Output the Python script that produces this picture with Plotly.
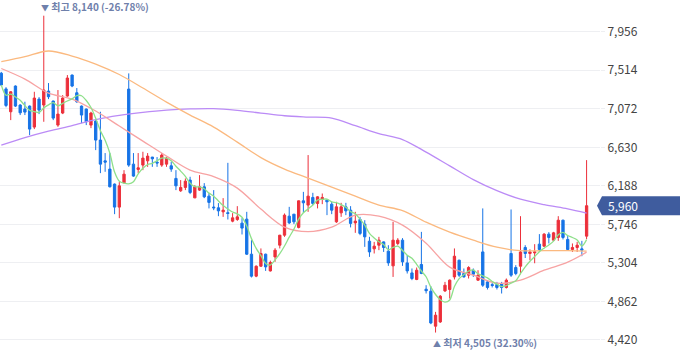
import plotly.graph_objects as go
import pandas as pd

# ---------------- data ----------------
opens = [7480, 7300, 7038, 7333, 7115, 7069, 7103, 6862, 7183, 7115,
         7275, 7161, 6885, 7023, 7218, 7459, 7256, 7103, 7069, 6885,
         6931, 6713, 6475, 6380, 6208, 5944, 6223, 7298, 6437, 6376,
         6426, 6475, 6518, 6460, 6426, 6437, 6418, 6273, 6131, 6170,
         6254, 6050, 6139, 6177, 6070, 5945, 5936, 5890, 5880, 5783,
         5802, 5760, 5806, 5404, 5152, 5266, 5404, 5212, 5373, 5507,
         5622, 5840, 5863, 5711, 6016, 5967, 6055, 5986, 6032, 6024,
         5978, 5775, 5878, 5947, 5909, 5763, 5802, 5749, 5553, 5465,
         5507, 5545, 5439, 5270, 5527, 5565, 5304, 5189, 5114, 5286,
         5002, 4979, 4578, 4627, 4983, 4999, 5143, 5335, 5182, 5163,
         5220, 5106, 5430, 5086, 5055, 5056, 5068, 5022, 5412, 5251,
         5266, 5481, 5412, 5419, 5519, 5496, 5634, 5565, 5596, 5794,
         5573, 5458, 5481, 5465, 5611]
highs = [7495, 7320, 7275, 7340, 7125, 7153, 7110, 7267, 7206, 8140,
         7367, 7165, 7287, 7229, 7459, 7465, 7310, 7110, 7075, 7038,
         6942, 7038, 6564, 6564, 6215, 6231, 6368, 7478, 6564, 6564,
         6579, 6564, 6520, 6518, 6564, 6518, 6464, 6368, 6254, 6273,
         6292, 6196, 6311, 6219, 6105, 6139, 5990, 6047, 6452, 5875,
         5955, 5817, 5890, 5565, 5275, 5470, 5410, 5330, 5473, 5625,
         5871, 5947, 5865, 6020, 6119, 6541, 6108, 6070, 6100, 6030,
         6005, 6005, 5993, 5993, 5955, 5890, 5832, 5794, 5603, 5545,
         5603, 5550, 5507, 5775, 5588, 5588, 5393, 5240, 5251, 5660,
         5048, 5037, 4742, 4935, 5086, 5114, 5470, 5340, 5240, 5266,
         5240, 5220, 5929, 5106, 5075, 5086, 5086, 5125, 5917, 5278,
         5840, 5507, 5460, 5519, 5634, 5645, 5657, 5660, 5840, 5800,
         5611, 5527, 5545, 5557, 6483]
lows = [7330, 7090, 6942, 7092, 7000, 7000, 6770, 6839, 7011, 6923,
        7183, 6942, 6865, 7011, 7210, 7320, 7140, 6908, 6885, 6850,
        6598, 6334, 6349, 6170, 5863, 5817, 6219, 6406, 6292, 6334,
        6368, 6406, 6406, 6406, 6406, 6406, 6349, 6139, 6119, 6139,
        6093, 6047, 6130, 6047, 5929, 5909, 5840, 5832, 5802, 5770,
        5786, 5630, 5395, 5137, 5140, 5258, 5212, 5205, 5316, 5470,
        5603, 5749, 5749, 5700, 5878, 5890, 5967, 5929, 5978, 5852,
        5863, 5763, 5832, 5852, 5711, 5649, 5622, 5488, 5373, 5412,
        5450, 5430, 5270, 5143, 5507, 5270, 5182, 5106, 5106, 5175,
        4953, 4601, 4505, 4615, 4970, 4895, 5114, 5143, 5137, 5125,
        5143, 5098, 5029, 4999, 5022, 4999, 4953, 5010, 5143, 5163,
        5174, 5360, 5335, 5300, 5430, 5488, 5527, 5557, 5557, 5573,
        5450, 5430, 5430, 5381, 5576]
closes = [7345, 7110, 7267, 7103, 7026, 7034, 6839, 7195, 7057, 7287,
          7210, 6965, 7011, 7195, 7425, 7333, 7153, 7000, 6923, 7023,
          6713, 6437, 6460, 6177, 5944, 6188, 6322, 6426, 6300, 6395,
          6506, 6529, 6498, 6450, 6541, 6506, 6380, 6188, 6170, 6242,
          6112, 6177, 6177, 6062, 5998, 5936, 5901, 5909, 5871, 5821,
          5832, 5703, 5404, 5152, 5266, 5412, 5258, 5309, 5450, 5622,
          5852, 5763, 5775, 6016, 5993, 6070, 5986, 6062, 6055, 6005,
          5909, 5947, 5947, 5901, 5757, 5783, 5642, 5603, 5430, 5496,
          5565, 5481, 5304, 5565, 5565, 5316, 5212, 5125, 5220, 5182,
          4985, 4615, 4704, 4922, 5048, 5106, 5381, 5163, 5143, 5251,
          5174, 5163, 5048, 5022, 5045, 5022, 5022, 5106, 5163, 5182,
          5430, 5412, 5430, 5430, 5458, 5634, 5596, 5649, 5794, 5596,
          5458, 5481, 5507, 5450, 5960]

# moving averages at these candle indices
ma_idx = [0, 5, 10, 15, 20, 25, 30, 35, 40, 45, 50, 55, 60, 65, 70, 75,
          80, 85, 90, 95, 100, 105, 110, 115, 120, 124]
ma20 = [7534, 7413, 7252, 7183, 7046, 6874, 6701, 6529, 6368, 6294,
        6162, 5921, 5714, 5662, 5714, 5852, 5840, 5737, 5530, 5255,
        5163, 5071, 5106, 5220, 5312, 5427]
ma60 = [7614, 7671, 7735, 7677, 7585, 7465, 7310, 7149, 7000, 6862,
        6690, 6512, 6380, 6277, 6173, 6070, 5967, 5904, 5771, 5657,
        5565, 5484, 5444, 5444, 5444, 5438]
ma120 = [6655, 6742, 6816, 6879, 6948, 6996, 7031, 7057, 7071, 7074,
         7054, 7023, 6992, 6977, 6965, 6879, 6787, 6719, 6575, 6417,
         6259, 6133, 6035, 5972, 5923, 5875]

y_ticks = [4420, 4862, 5304, 5746, 6188, 6630, 7072, 7514, 7956]

# ---------------- styling ----------------
RED = "#ec2f3a"
BLUE = "#1673e6"
C_MA5 = "#8fe08b"
C_MA20 = "#f7a3a3"
C_MA60 = "#fbb97f"
C_MA120 = "#bb8bf6"
NOTE = "#6f80ab"
FONT = "Noto Sans CJK KR"

idx = list(range(len(closes)))
ma5 = pd.Series(closes).rolling(5, min_periods=1).mean().tolist()

fig = go.Figure()
fig.add_trace(go.Candlestick(
    x=idx, open=opens, high=highs, low=lows, close=closes,
    increasing=dict(line=dict(color=RED, width=1), fillcolor=RED),
    decreasing=dict(line=dict(color=BLUE, width=1), fillcolor=BLUE),
    whiskerwidth=0, showlegend=False, hoverinfo="skip"))

for xs, ys, col in [(ma_idx, ma120, C_MA120), (ma_idx, ma60, C_MA60),
                    (ma_idx, ma20, C_MA20), (idx, ma5, C_MA5)]:
    fig.add_trace(go.Scatter(x=xs, y=ys, mode="lines", showlegend=False,
                             hoverinfo="skip",
                             line=dict(color=col, width=1.3, shape="spline",
                                       smoothing=0.9)))

last = closes[-1]
hi = max(highs)
lo = min(lows)
i_hi = highs.index(hi)
i_lo = lows.index(lo)

TRI = "<span style='font-size:8px'>{}</span>"
fig.add_annotation(x=i_hi, y=hi, xref="x", yref="y", showarrow=False,
                   xanchor="left", yanchor="bottom", xshift=-5, yshift=0,
                   text=TRI.format("▼") + f" 최고 {hi:,} ({(last - hi) / hi * 100:.2f}%)",
                   font=dict(family=FONT, size=10, color=NOTE, weight="bold"))
fig.add_annotation(x=i_lo, y=lo, xref="x", yref="y", showarrow=False,
                   xanchor="left", yanchor="top", xshift=-5, yshift=0,
                   text=TRI.format("▲") + f" 최저 {lo:,} ({(last - lo) / lo * 100:.2f}%)",
                   font=dict(family=FONT, size=10, color=NOTE, weight="bold"))

# current price tag
W = 600.0
h = 9.5 * 11.47
fig.add_shape(type="path", xref="paper", yref="y", layer="above",
              path=(f"M {597/W},{last} L {602/W},{last - h} L {680/W},{last - h} "
                    f"L {680/W},{last + h} L {602/W},{last + h} Z"),
              fillcolor="#3f5c9e", line=dict(width=0))
fig.add_annotation(x=606 / W, y=last, xref="paper", yref="y", showarrow=False,
                   xanchor="left", yanchor="middle", text=f"{last:,}",
                   font=dict(family=FONT, size=12, color="white"))

fig.update_layout(
    width=680, height=358, margin=dict(l=0, r=80, t=0, b=0),
    paper_bgcolor="white", plot_bgcolor="white",
    xaxis=dict(range=[-0.275, 126.84], visible=False,
               rangeslider=dict(visible=False), showgrid=False),
    yaxis=dict(range=[4213, 8320], side="right", tickvals=y_ticks,
               ticktext=[f"{v:,}" for v in y_ticks], showgrid=True,
               gridcolor="#eeeff2", gridwidth=1, zeroline=False,
               ticks="outside", ticklen=4, tickcolor="#eeeff2",
               tickfont=dict(family=FONT, size=12, color="#444444"),
               showline=False),
)

fig.write_html("out.html",
               config={"displayModeBar": False},
               post_script="document.body.style.margin='0';"
                           "document.body.style.overflow='hidden';")
